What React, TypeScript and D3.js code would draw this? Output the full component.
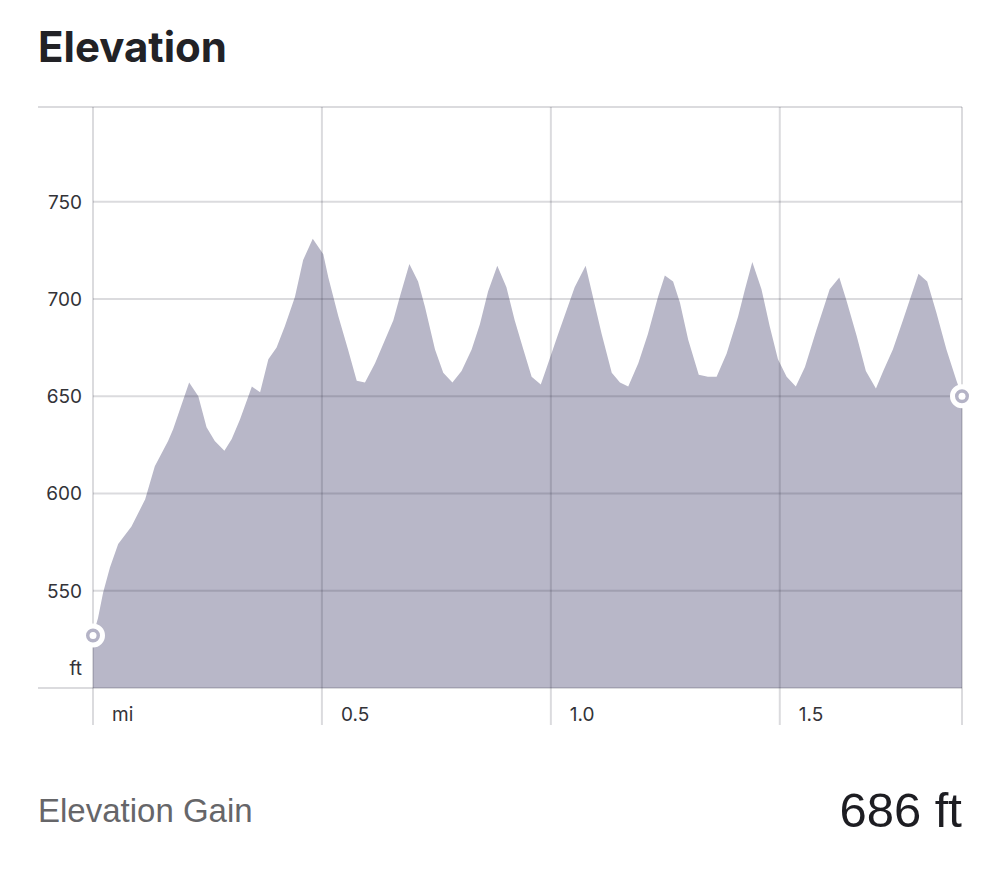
import React from "react";
import * as d3 from "d3";

// distance along route (mi)
const distances: number[] = [
  0.0, 0.011, 0.022, 0.037, 0.055, 0.084, 0.114, 0.135, 0.164, 0.175,
  0.21, 0.23, 0.248, 0.266, 0.287, 0.303, 0.321, 0.347, 0.365, 0.383,
  0.401, 0.419, 0.441, 0.459, 0.48, 0.503, 0.514, 0.536, 0.557, 0.576,
  0.594, 0.616, 0.656, 0.67, 0.691, 0.71, 0.725, 0.747, 0.765, 0.785,
  0.805, 0.827, 0.845, 0.863, 0.883, 0.903, 0.921, 0.94, 0.958, 0.978,
  0.987, 1.016, 1.052, 1.076, 1.092, 1.111, 1.133, 1.151, 1.169, 1.191,
  1.212, 1.234, 1.249, 1.267, 1.282, 1.3, 1.323, 1.343, 1.362, 1.384,
  1.409, 1.424, 1.44, 1.46, 1.478, 1.496, 1.515, 1.535, 1.555, 1.58,
  1.609, 1.63, 1.646, 1.668, 1.688, 1.71, 1.726, 1.747, 1.769, 1.803,
  1.822, 1.842, 1.864, 1.886, 1.898,
];

// elevation (ft)
const elevations: number[] = [
  527, 536, 549, 562, 574, 583, 597, 614, 627, 633,
  657, 650, 634, 627, 622, 628, 638, 655, 652, 669,
  675, 686, 701, 720, 731, 723, 711, 691, 674, 658,
  657, 667, 689, 701, 718, 709, 696, 674, 662, 657,
  663, 674, 687, 704, 717, 706, 689, 674, 660, 656,
  662, 682, 706, 717, 701, 682, 662, 657, 655, 667,
  682, 701, 712, 709, 698, 679, 661, 660, 660, 672,
  691, 705, 719, 705, 686, 669, 660, 655, 665, 684,
  705, 711, 699, 681, 663, 654, 663, 674, 689, 713,
  709, 693, 674, 658, 650,
];

const yTicks: number[] = [550, 600, 650, 700, 750];
const xTicks: number[] = [0, 0.5, 1.0, 1.5];
const xTickLabels: string[] = ["mi", "0.5", "1.0", "1.5"];

const title = "Elevation";
const gainLabel = "Elevation Gain";
const gainValue = "686 ft";
const yUnit = "ft";

export default function App() {
  const W = 1000;
  const H = 879;
  const frameLeft = 38;
  const plotLeft = 93;
  const plotRight = 962;
  const plotBottom = 688;
  const frameTop = 107;
  const tickBottom = 725;

  const data = distances.map((d, i) => ({ d, e: elevations[i] }));
  const maxD = d3.max(distances) as number;

  const x = d3.scaleLinear().domain([0, maxD]).range([plotLeft, plotRight]);
  const y = d3.scaleLinear().domain([500, 800]).range([plotBottom, 104.4]);

  const area = d3
    .area<{ d: number; e: number }>()
    .x((p) => x(p.d))
    .y0(y(500))
    .y1((p) => y(p.e))
    .curve(d3.curveLinear);

  const gridStroke = "rgba(40,40,60,0.17)";
  const fill = "#b8b7c8";
  const labelFont = "Inter, 'DejaVu Sans', sans-serif";

  const first = data[0];
  const last = data[data.length - 1];

  return (
    <svg
      width={W}
      height={H}
      viewBox={`0 0 ${W} ${H}`}
      style={{ position: "absolute", left: 0, top: 0, background: "#fff" }}
    >
      <text
        x={38}
        y={62}
        fontFamily={labelFont}
        fontWeight={700}
        fontSize={42}
        fill="#222226"
      >
        {title}
      </text>

      <path d={area(data) || ""} fill={fill} />

      {/* frame top & bottom */}
      <line x1={frameLeft} x2={plotRight} y1={frameTop} y2={frameTop} stroke={gridStroke} strokeWidth={2} />
      <line x1={frameLeft} x2={plotRight} y1={plotBottom} y2={plotBottom} stroke={gridStroke} strokeWidth={2} />

      {/* horizontal gridlines */}
      {yTicks.map((t) => (
        <line key={`h${t}`} x1={plotLeft} x2={plotRight} y1={y(t)} y2={y(t)} stroke={gridStroke} strokeWidth={2} />
      ))}

      {/* vertical gridlines */}
      {[...xTicks, maxD].map((t, i) => (
        <line key={`v${i}`} x1={x(t)} x2={x(t)} y1={frameTop} y2={tickBottom} stroke={gridStroke} strokeWidth={2} />
      ))}

      {/* y labels */}
      {yTicks.map((t) => (
        <text
          key={`yl${t}`}
          x={82}
          y={y(t)}
          dy="0.36em"
          textAnchor="end"
          fontFamily={labelFont}
          fontSize={19}
          fill="#333338"
        >
          {t}
        </text>
      ))}
      <text x={82} y={675} textAnchor="end" fontFamily={labelFont} fontSize={19} fill="#333338">
        {yUnit}
      </text>

      {/* x labels */}
      {xTicks.map((t, i) => (
        <text
          key={`xl${t}`}
          x={x(t) + 19}
          y={721}
          fontFamily={labelFont}
          fontSize={19}
          fill="#333338"
        >
          {xTickLabels[i]}
        </text>
      ))}

      {/* end markers */}
      {[first, last].map((p, i) => (
        <g key={`m${i}`}>
          <circle cx={x(p.d)} cy={y(p.e)} r={9.5} fill="#b4b3c6" stroke="#fff" strokeWidth={5} />
          <circle cx={x(p.d)} cy={y(p.e)} r={3.5} fill="#fff" />
        </g>
      ))}

      <text
        x={38}
        y={822}
        fontFamily="'Liberation Sans', Arial, sans-serif"
        fontSize={33}
        fill="#666669"
      >
        {gainLabel}
      </text>
      <text
        x={962}
        y={827}
        textAnchor="end"
        fontFamily="'Liberation Sans', Arial, sans-serif"
        fontSize={49}
        fill="#1d1d22"
      >
        {gainValue}
      </text>
    </svg>
  );
}
